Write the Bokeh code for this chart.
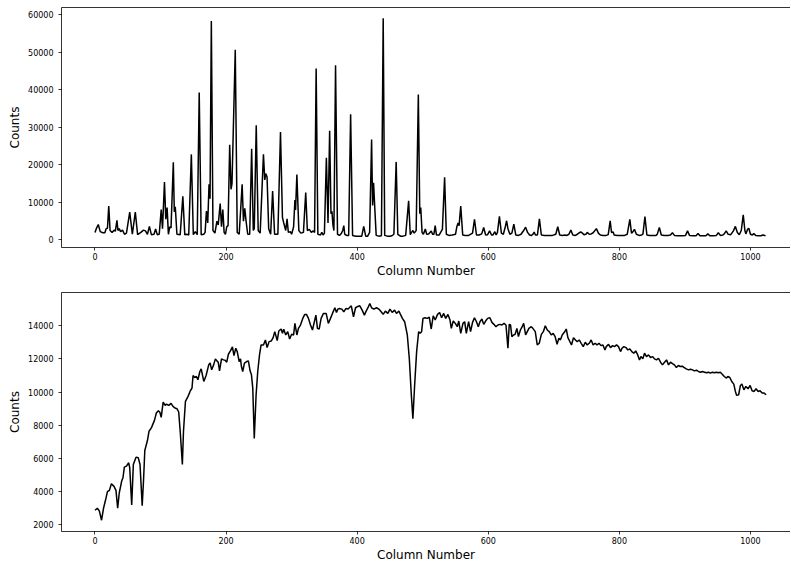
from bokeh.plotting import figure
from bokeh.layouts import column
from bokeh.models import Range1d, LinearAxis, FixedTicker
from bokeh.embed import file_html
from bokeh.resources import INLINE

# ---- data (column, counts) ----
arc_points = [
    (0, 2000), (2, 3000), (5, 4100), (8, 2200), (12, 1900), (15, 1900), (17, 3000), (19, 3100),
    (21, 9000), (23, 2500), (26, 2000), (29, 2600), (31, 2300), (33.5, 5200), (35, 2500), (37, 3000),
    (39, 2200), (42, 2600), (45, 1500), (48, 1800), (53, 7400), (57, 1500), (61.5, 7400), (65, 1400),
    (70, 2000), (74, 2600), (77, 2400), (80, 1500), (83, 3600), (86, 1400), (90, 1500), (92.5, 2900),
    (95, 1400), (98, 1500), (101, 8100), (103, 3000), (106, 15400), (108, 5500), (110, 8600), (112, 1500),
    (114, 3500), (116, 3200), (119.5, 20700), (121, 7500), (122.5, 8800), (125, 1500), (130, 1400),
    (134, 11600), (137, 1400), (140, 1500), (143, 1300), (147, 22800), (150, 1400), (153, 2200),
    (156, 1400), (159, 39300), (162, 1400), (166, 1500), (168, 2000), (170, 7700), (172, 4500),
    (174, 14800), (175.5, 11000), (177.5, 58400), (180, 2500), (183, 1800), (186, 5000), (188, 4000),
    (191, 9700), (193, 3500), (195, 8100), (197, 2000), (199, 1500), (201, 3500), (203, 3800),
    (205.5, 25400), (207.5, 13500), (209, 15000), (214, 50700), (217, 2000), (220, 1500),
    (224.5, 14800), (226.5, 5000), (228.5, 8400), (230.5, 5000), (233, 1500), (236, 1500),
    (239, 24300), (241.5, 2500), (243, 3000), (246, 30600), (249, 2500), (252, 1800), (257, 22800),
    (259, 16000), (260.5, 17700), (262.5, 16800), (265, 3000), (268, 1500), (271, 13000), (274, 1500),
    (279, 1500), (283, 28800), (286, 6000), (288, 4500), (291, 2500), (293, 5600), (295, 2000),
    (298, 2200), (300, 1500), (303, 3500), (305, 10600), (306, 8000), (308, 17400), (311, 2500),
    (314, 1800), (318, 2000), (321.5, 12600), (324, 2500), (327, 2800), (330, 2000), (333, 2400),
    (335, 2000), (337.4, 45700), (340, 1500), (344, 1300), (346, 2000), (348, 1300), (350, 1800),
    (353, 21900), (355.5, 4500), (358, 29100), (360, 7000), (361.5, 7600), (363, 4000), (364.5, 2500),
    (367, 46600), (370, 1500), (373, 1200), (376, 1800), (378, 2500), (379.6, 3800), (381, 1500),
    (384, 1200), (387, 1200), (390, 33500), (393, 1200), (398, 1000), (403, 1000), (407, 1000),
    (410, 3600), (413, 1000), (416, 1000), (419, 2000), (422, 26800), (423.5, 9200), (425, 15200),
    (427, 8000), (429, 1200), (433, 1000), (437, 1100), (439.7, 59100), (442, 1200), (446, 1000),
    (450, 1000), (453, 1100), (456, 1500), (459.5, 20800), (462, 1500), (466, 1000), (470, 1000),
    (474, 1200), (478.5, 10400), (481, 1400), (483, 2000), (485, 2500), (487, 1800), (490, 2500),
    (493.3, 38800), (495.5, 7000), (497, 8600), (499, 2000), (501, 1500), (504, 2900), (506, 1500),
    (509, 1600), (511, 2000), (513, 2400), (515, 1500), (517, 1500), (519, 3800), (521, 1300),
    (525, 1300), (528, 2200), (530, 2800), (533.4, 16700), (536, 1500), (540, 1200), (545, 1300),
    (550, 1500), (552, 3500), (554, 4500), (555.5, 3800), (558, 9000), (561, 1300), (565, 1200),
    (570, 1200), (576, 1800), (579, 5500), (582, 1300), (586, 1300), (590, 1600), (593, 3300),
    (596, 1300), (599, 1400), (602, 2400), (605, 1300), (607, 1300), (610, 2200), (612, 1300),
    (614, 2000), (617, 6300), (620, 1800), (623, 1500), (626, 3500), (628, 5100), (630, 3000),
    (633, 1500), (636, 1800), (639, 4200), (642, 1300), (646, 1200), (650, 1500), (654, 2500),
    (657, 3400), (660, 2000), (663, 1300), (666, 1200), (668, 1500), (670, 2100), (672, 1300),
    (675, 1300), (678, 5600), (681, 1300), (686, 1200), (692, 1200), (698, 1200), (703, 1500),
    (706, 3500), (709, 1300), (713, 1200), (717, 1300), (720, 1200), (723, 1500), (726, 2600),
    (729, 1300), (733, 1200), (736, 1500), (738, 1800), (741, 2100), (743, 1900), (746, 1400),
    (749, 1500), (751, 2000), (754, 1500), (757, 1600), (760, 1900), (765, 3000), (768, 1800),
    (771, 1300), (775, 1200), (780, 1200), (783, 1400), (786, 5100), (788, 2000), (790.6, 2100),
    (792, 1300), (797, 1200), (803, 1200), (808, 1200), (812, 1500), (816, 5500), (818.5, 1800),
    (820, 2000), (823, 2800), (826, 1500), (830, 1200), (834, 1300), (836, 1600), (839, 6200),
    (842, 1300), (846, 1200), (851, 1200), (856, 1200), (858, 1600), (861, 3300), (864, 1300),
    (869, 1200), (874, 1200), (878, 1300), (881, 1900), (884, 1200), (890, 1100), (896, 1100),
    (901, 1200), (904, 2400), (907, 1200), (913, 1100), (917, 1100), (920, 1700), (923, 1100),
    (928, 1100), (932, 1100), (935, 1600), (938, 1100), (943, 1100), (948, 1200), (951, 1900),
    (954, 1200), (958, 1300), (960, 1600), (963, 2400), (966, 1500), (970, 1400), (974, 2400),
    (977, 3600), (980, 2000), (983, 1400), (986, 2500), (989, 6700), (991.5, 2500), (993, 1600),
    (995.5, 2800), (997.5, 3100), (1000, 1500), (1003, 1300), (1005, 1700), (1008, 1200),
    (1012, 1100), (1016, 1100), (1019, 1300), (1023, 1100),
]

flat_points = [
    (0, 2880), (3.6, 3000), (6.6, 2840), (10, 2280), (13, 3000), (16, 3480), (19, 4000), (22, 4080),
    (25, 4480), (29, 4320), (32, 4080), (34.6, 3000), (37, 3920), (40.7, 4640), (42.7, 4840),
    (44.8, 5480), (48, 5540), (51.4, 5740), (53, 5440), (56, 3200), (58.5, 5640), (62.6, 6080),
    (66, 6040), (68.7, 5640), (72, 3160), (74, 4640), (76, 6480), (80, 7080), (82.4, 7640),
    (86, 7840), (88, 8040), (90.6, 8280), (93.6, 8740), (96.7, 8880), (99, 8780), (101, 8480),
    (104, 9400), (107, 9200), (109, 9280), (112.5, 9200), (116, 9320), (119, 9140), (122, 9040),
    (125, 9000), (127.7, 8800), (130, 7640), (133.3, 5640), (135, 7640), (138, 9440), (142, 9740),
    (145.5, 10080), (148, 10240), (149.6, 11000), (152, 10880), (154.7, 10940), (157, 10740),
    (160, 11240), (162, 11400), (166, 10640), (169.5, 11000), (173.5, 11640), (175.6, 11760),
    (178, 11340), (181, 11640), (183.7, 12000), (186, 11880), (188, 11800), (190, 11280),
    (193, 12000), (196, 11940), (198.5, 11920), (201, 11800), (203.5, 12280), (206.6, 12480),
    (209.7, 12720), (212, 12200), (214.8, 12640), (217, 12440), (220, 11840), (222, 12000),
    (223.4, 11540), (225.4, 11240), (228, 11740), (231.5, 11840), (234, 11880), (236.6, 11280),
    (238.7, 11040), (240.7, 10240), (243, 7200), (245.8, 9840), (248.3, 11240), (251, 12240),
    (253.4, 12840), (257, 12840), (260, 13140), (262.6, 12680), (265.6, 13040), (269, 13080),
    (271.8, 13280), (274.3, 13640), (278, 13100), (280.4, 13680), (284, 13800), (286, 13540),
    (288, 13780), (291, 13440), (294, 13640), (297, 13200), (300, 13480), (303, 13440),
    (305, 14140), (308, 13440), (310.4, 13840), (313.5, 14040), (317, 14440), (320, 14680),
    (322.6, 14680), (325.7, 14440), (328.8, 14040), (331.8, 13740), (334.9, 14280), (337, 14640),
    (339.4, 13840), (342, 13800), (345, 14440), (348.6, 14740), (352.7, 14740), (356, 14140),
    (359.3, 14440), (362.3, 14740), (366, 15080), (368.4, 14800), (370.5, 15000), (373, 15040),
    (376.6, 15000), (379.6, 14840), (383, 15040), (385.7, 15000), (388, 15080), (391, 15200),
    (394.4, 14540), (397.5, 15080), (401, 15160), (404, 15200), (407.6, 14940), (411, 14640),
    (413.7, 14880), (416.8, 15120), (419.3, 15340), (421.9, 15080), (425.4, 15000), (429.5, 15080),
    (433, 15000), (436.6, 14840), (439.7, 14680), (443, 14880), (446.8, 14740), (450, 15000),
    (453.4, 14800), (457, 14940), (460, 14740), (463.6, 14880), (469, 14440), (472.4, 14240),
    (476.5, 13440), (479.5, 12040), (482.6, 9840), (485, 8400), (487.7, 10440), (490.7, 12440),
    (493.8, 13640), (496, 13540), (498.3, 13640), (500.4, 14440), (503.4, 14480), (507, 14440),
    (510, 14520), (513, 13800), (516, 14600), (519, 14340), (522.7, 14680), (525.8, 14800),
    (528.8, 14480), (532, 14740), (535, 14440), (538.5, 14680), (541.6, 14340), (543.6, 13840),
    (546.6, 14280), (549.7, 14140), (552.7, 13940), (555, 14280), (558, 13540), (561.4, 14140),
    (564, 14240), (566.5, 13540), (570, 14240), (573, 13640), (576, 14200), (579, 14480),
    (582, 14240), (584.8, 13940), (587.3, 14240), (590.3, 14400), (593, 14080), (596, 14280),
    (599, 14440), (602.5, 14480), (605.6, 14200), (608.6, 14080), (611.7, 13940), (614.7, 14040),
    (617.8, 14080), (620.8, 14040), (624, 14140), (627, 14040), (630, 12640), (632, 14080),
    (634, 14040), (636, 13340), (638.6, 13440), (641, 13480), (643.7, 13840), (646, 13340),
    (649, 13740), (651.8, 13940), (654, 14140), (657, 13440), (659.5, 13640), (662, 13840),
    (665.6, 13940), (668, 13840), (671.7, 13640), (674.7, 12840), (677.8, 12940), (681, 13480),
    (684, 13640), (687, 14000), (690, 13740), (693, 13640), (696, 13440), (699, 13540),
    (702, 13340), (705, 12880), (707.7, 13240), (710, 13140), (712.8, 13440), (716, 13600),
    (719, 13800), (721.5, 13280), (724, 13080), (727, 12840), (730, 13280), (733, 13140),
    (735.7, 13040), (738.8, 13140), (741.8, 12940), (744.9, 12740), (748, 13000), (751, 12840),
    (754, 12940), (757, 13140), (760, 12840), (763, 12940), (766, 12840), (769, 12940),
    (772, 12800), (775, 12840), (778, 12540), (780, 12740), (783.5, 12880), (786.5, 12680),
    (789.6, 12800), (792.6, 12740), (795.7, 12840), (798.7, 12740), (801.8, 12440), (804, 12640),
    (806.9, 12740), (810, 12680), (813, 12540), (816, 12600), (819, 12440), (822, 12340),
    (825, 12480), (828, 12240), (830.7, 11940), (833, 12140), (835.8, 12000), (838.4, 12340),
    (841.4, 12140), (844.5, 12240), (847.5, 12080), (850.6, 12140), (853.6, 12000), (856.7, 11940),
    (859.7, 12040), (862.8, 11800), (865.8, 11640), (868.9, 11800), (872, 11940), (875, 11640),
    (878, 11800), (881, 11720), (884, 11640), (887, 11480), (890, 11600), (893, 11540),
    (896, 11560), (899, 11480), (902, 11400), (905.5, 11340), (908.5, 11380), (911.6, 11340),
    (914.6, 11280), (917.7, 11320), (920.7, 11240), (923.8, 11200), (926.8, 11240), (930, 11200),
    (933, 11160), (936, 11200), (939, 11140), (942, 11200), (945, 11160), (948, 11200),
    (951, 11160), (954, 11200), (957, 11080), (960, 10940), (963.4, 10840), (965.4, 10940),
    (968.5, 10880), (971.5, 10640), (974.6, 10480), (977, 10040), (979, 9800), (982, 9840),
    (984.7, 10400), (987, 10480), (990, 10140), (993, 10340), (996.4, 10200), (999.5, 10400),
    (1002.5, 10080), (1005.6, 10040), (1008.6, 10200), (1011.7, 10040), (1014.7, 10080),
    (1017.8, 9940), (1020.8, 9940), (1023.9, 9840),
]

arc_col = [c for c, _ in arc_points]
arc_counts = [v for _, v in arc_points]
flat_col = [c for c, _ in flat_points]
flat_counts = [v for _, v in flat_points]

x_ticks = [0, 200, 400, 600, 800, 1000]
arc_y_ticks = [0, 10000, 20000, 30000, 40000, 50000, 60000]
flat_y_ticks = [2000, 4000, 6000, 8000, 10000, 12000, 14000]

FONT = "DejaVu Sans"


def make_panel(xs, ys, yrange, yticks, height, border_bottom):
    p = figure(width=790, height=height,
               x_range=Range1d(-51.1, 1061.1), y_range=Range1d(*yrange),
               output_backend="svg", toolbar_location=None,
               min_border_left=61, min_border_right=0, min_border_top=7,
               min_border_bottom=border_bottom, outline_line_color=None,
               background_fill_color="white", border_fill_color="white")
    p.line(x=xs, y=ys, line_color="black", line_width=1.5)
    p.xgrid.visible = False
    p.ygrid.visible = False
    for ax, ticks in ((p.xaxis[0], x_ticks), (p.yaxis[0], yticks)):
        ax.ticker = FixedTicker(ticks=ticks)
        ax.minor_tick_line_color = None
        ax.major_tick_out = 3
        ax.major_tick_in = 0
        ax.major_tick_line_width = 0.8
        ax.major_tick_line_color = "black"
        ax.axis_line_width = 0.8
        ax.axis_line_color = "black"
        ax.major_label_text_font = FONT
        ax.major_label_text_font_size = "8px"
        ax.major_label_text_color = "black"
        ax.axis_label_text_font = FONT
        ax.axis_label_text_font_size = "12px"
        ax.axis_label_text_font_style = "normal"
        ax.axis_label_text_color = "black"
    p.xaxis.axis_label = "Column Number"
    p.yaxis.axis_label = "Counts"
    p.xaxis.major_label_standoff = 2
    p.xaxis.axis_label_standoff = 1
    p.yaxis.major_label_standoff = 5
    p.yaxis.axis_label_standoff = 3
    top = LinearAxis(ticker=FixedTicker(ticks=[]), major_tick_line_color=None,
                     minor_tick_line_color=None, major_label_text_font_size="0px",
                     axis_line_width=0.8, axis_line_color="black")
    p.add_layout(top, "above")
    return p


p1 = make_panel(arc_col, arc_counts, (-2027, 61973), arc_y_ticks, 285, 38)
p2 = make_panel(flat_col, flat_counts, (1600, 16000), flat_y_ticks, 279, 32)

layout = column(p1, p2, spacing=0)
open("out.html", "w").write(file_html(layout, INLINE))
